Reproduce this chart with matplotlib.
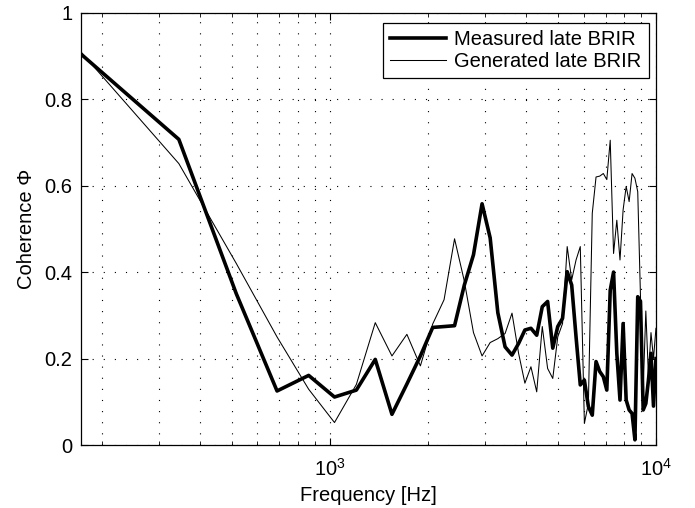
import numpy as np
import matplotlib
matplotlib.use("Agg")
import matplotlib.pyplot as plt
from matplotlib.ticker import FixedLocator, LogLocator, NullFormatter

plt.rcParams['font.family'] = ['Liberation Sans', 'DejaVu Sans']

# FFT bin frequencies (44.1 kHz / 256)
bin_width = 44100.0 / 256
freqs = bin_width * np.arange(1, 59)

measured = [0.905, 0.707, 0.350, 0.125, 0.161, 0.111, 0.127, 0.198, 0.071, 0.141,
            0.206, 0.272, 0.274, 0.276, 0.370, 0.440, 0.558, 0.479, 0.306, 0.227,
            0.208, 0.235, 0.266, 0.270, 0.254, 0.320, 0.332, 0.224, 0.274, 0.293,
            0.401, 0.370, 0.250, 0.139, 0.150, 0.089, 0.069, 0.193, 0.170, 0.158,
            0.127, 0.358, 0.400, 0.212, 0.104, 0.281, 0.104, 0.081, 0.073, 0.012,
            0.343, 0.332, 0.081, 0.096, 0.150, 0.212, 0.090, 0.200]

generated = [0.910, 0.651, 0.420, 0.250, 0.129, 0.052, 0.140, 0.283, 0.206, 0.256,
             0.183, 0.280, 0.336, 0.477, 0.379, 0.260, 0.206, 0.237, 0.246, 0.258,
             0.305, 0.212, 0.143, 0.181, 0.123, 0.274, 0.177, 0.154, 0.250, 0.281,
             0.459, 0.382, 0.428, 0.459, 0.050, 0.096, 0.536, 0.620, 0.622, 0.628,
             0.614, 0.705, 0.443, 0.520, 0.428, 0.544, 0.598, 0.563, 0.628, 0.617,
             0.586, 0.343, 0.130, 0.310, 0.160, 0.260, 0.200, 0.270]

y_ticks = [0, 0.2, 0.4, 0.6, 0.8, 1]
y_tick_labels = ["0", "0.2", "0.4", "0.6", "0.8", "1"]

fs = 14.5

fig = plt.figure(figsize=(6.95, 5.08), dpi=100)
ax = fig.add_axes([0.116, 0.124, 0.828, 0.851])

ax.plot(freqs, measured, color="black", lw=2.6, label="Measured late BRIR")
ax.plot(freqs, generated, color="black", lw=0.75, label="Generated late BRIR")

ax.set_xscale("log")
ax.set_xlim(freqs[0], 1e4)
ax.set_ylim(0, 1)

ax.xaxis.set_major_locator(FixedLocator([1e3, 1e4]))
ax.set_xticklabels([r"$\mathregular{10^{3}}$", r"$\mathregular{10^{4}}$"])
ax.xaxis.set_minor_locator(LogLocator(base=10, subs=np.arange(2, 10)))
ax.xaxis.set_minor_formatter(NullFormatter())
ax.set_yticks(y_ticks)
ax.set_yticklabels(y_tick_labels)

ax.tick_params(which="both", direction="in", top=True, right=True, labelsize=fs)
ax.tick_params(which="major", length=5, width=0.8)
ax.tick_params(which="minor", length=3, width=0.6)
ax.tick_params(axis="x", which="major", pad=9)
ax.tick_params(axis="y", which="major", pad=6)

ax.grid(True, which="both", axis="x", linestyle=(0, (1, 9)), color="black", lw=0.8)
ax.grid(True, which="major", axis="y", linestyle=(0, (1, 9)), color="black", lw=0.8)

for s in ax.spines.values():
    s.set_linewidth(0.9)

ax.set_xlabel("Frequency [Hz]", fontsize=fs, labelpad=5)
ax.set_ylabel("Coherence Φ", fontsize=fs, labelpad=6)

leg = ax.legend(loc="upper right", bbox_to_anchor=(0.987, 0.977), borderaxespad=0,
                fancybox=False, framealpha=1, edgecolor="black", fontsize=fs,
                handlelength=2.8, borderpad=0.35, labelspacing=0.15, handletextpad=0.4)
leg.get_frame().set_linewidth(0.9)

fig.savefig("out.png", dpi=100)
